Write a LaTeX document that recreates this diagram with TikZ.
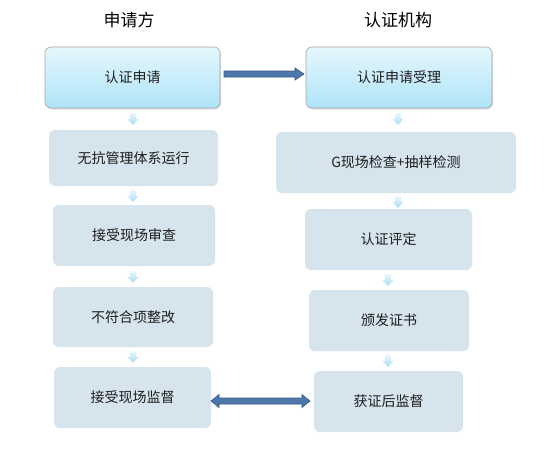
\documentclass[tikz,border=0pt]{standalone}
\usepackage{fontspec}
\setmainfont{Noto Sans CJK SC}
\usetikzlibrary{shapes.arrows,shadows,calc}
\definecolor{boxfill}{HTML}{D6E4EE}
\definecolor{topA}{HTML}{E6F7FD}
\definecolor{topB}{HTML}{AEE3F8}
\definecolor{arrfill}{HTML}{4E78AB}
\definecolor{arrdraw}{HTML}{36598A}
\definecolor{smallA}{HTML}{EAF7FD}
\definecolor{smallB}{HTML}{A9DDF5}
\definecolor{txt}{HTML}{1E1E1E}
\begin{document}
\begin{tikzpicture}[x=1pt,y=-1pt,
  stepbox/.style={rounded corners=6pt, fill=boxfill},
  topbox/.style={rounded corners=6pt, draw=gray!70, line width=0.6pt, top color=topA, bottom color=topB, drop shadow={shadow xshift=1pt, shadow yshift=-1.5pt, opacity=0.25}},
  label/.style={font=\fontsize{14}{16}\selectfont, text=txt},
  title/.style={font=\fontsize{17}{19}\selectfont, text=black},
  bigarrow/.style={fill=arrfill, draw=arrdraw, line width=0.6pt},
  small/.style={top color=smallA, bottom color=smallB, draw=none}
]
\useasboundingbox (0,0) rectangle (554,455);
\fill[white] (0,0) rectangle (554,455);

\node[title] (tl) at (129,20) {申请方};
\node[title] (tr) at (398,20) {认证机构};

% left column
\path[topbox] (45,47) rectangle (220,108);
\node[label] (l1) at (132.5,77.5) {认证申请};
\path[stepbox] (49,130) rectangle (218,186);
\node[label] (l2) at (133.5,158) {无抗管理体系运行};
\path[stepbox] (53,205) rectangle (215,266);
\node[label] (l3) at (134,235.5) {接受现场审查};
\path[stepbox] (53,287) rectangle (213,347);
\node[label] (l4) at (133,317) {不符合项整改};
\path[stepbox] (54,367) rectangle (211,428);
\node[label] (l5) at (132.5,397.5) {接受现场监督};

% right column
\path[topbox] (306,47) rectangle (492,108);
\node[label] (r1) at (399,77.5) {认证申请受理};
\path[stepbox] (276,132) rectangle (516,193);
\node[label] (r2) at (396,162.5) {G现场检查+抽样检测};
\path[stepbox] (305,209) rectangle (472,270);
\node[label] (r3) at (388.5,239.5) {认证评定};
\path[stepbox] (309,290) rectangle (469,351);
\node[label] (r4) at (389,320.5) {颁发证书};
\path[stepbox] (314,371) rectangle (463,432);
\node[label] (r5) at (388.5,401.5) {获证后监督};

% small down arrows
\foreach \x/\y in {133/113, 133/190, 133/271, 133/351, 398/113, 398/196, 388/274, 388/355}{
  \path[small] (\x-3,\y) -- (\x+3,\y) -- (\x+3,\y+6) -- (\x+5.5,\y+6) -- (\x,\y+12) -- (\x-5.5,\y+6) -- (\x-3,\y+6) -- cycle;
}

% top single arrow
\path[bigarrow] (224,71) -- (295,71) -- (295,68) -- (304,74) -- (295,80) -- (295,77) -- (224,77) -- cycle;
% bottom double arrow
\path[bigarrow] (211,401) -- (219,394.5) -- (219,398) -- (302,398) -- (302,394.5) -- (310,401) -- (302,407.5) -- (302,404) -- (219,404) -- (219,407.5) -- cycle;
\end{tikzpicture}
\end{document}
